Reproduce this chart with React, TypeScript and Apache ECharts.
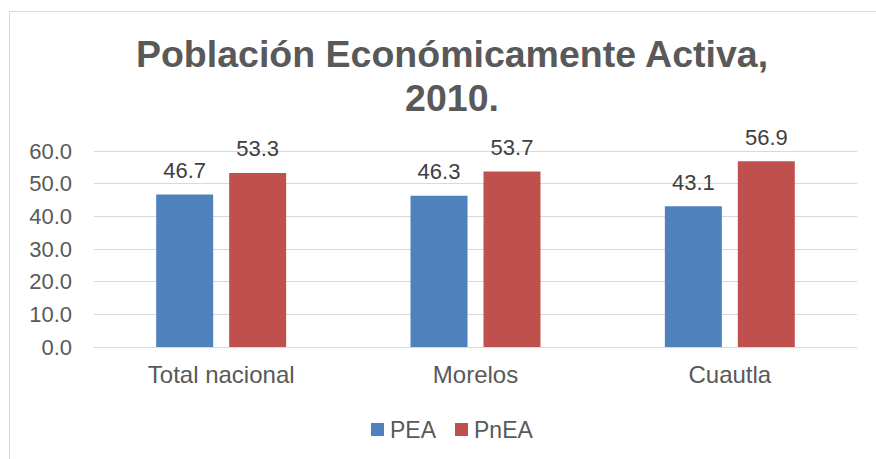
import React, { useEffect, useRef } from "react";
import * as echarts from "echarts";

const categories = ["Total nacional", "Morelos", "Cuautla"];
const peaValues = [46.7, 46.3, 43.1];
const pneaValues = [53.3, 53.7, 56.9];
const seriesNames = ["PEA", "PnEA"];
const titleLines = ["Población Económicamente Activa,", "2010."];

const FONT = "'Liberation Sans', Arial, sans-serif";

export default function App() {
  const ref = useRef<HTMLDivElement>(null);
  useEffect(() => {
    if (!ref.current) return;
    const chart = echarts.init(ref.current, null, { renderer: "svg" });
    chart.setOption({
      animation: false,
      backgroundColor: "#ffffff",
      textStyle: { fontFamily: FONT },
      title: {
        text: titleLines.join("\n"),
        left: 447,
        top: 27,
        textAlign: "center",
        textStyle: {
          fontFamily: FONT,
          fontSize: 37.5,
          fontWeight: "bold",
          color: "#595959",
          lineHeight: 44,
        },
      },
      graphic: [
        {
          type: "polyline",
          shape: { points: [[9.5, 470], [9.5, 11.5], [890, 11.5]] },
          style: { stroke: "#d9d9d9", lineWidth: 1, fill: "none" },
          silent: true,
        },
      ],
      legend: {
        left: 366,
        top: 413,
        itemWidth: 13,
        itemHeight: 13,
        itemGap: 19,
        icon: "rect",
        textStyle: { fontFamily: FONT, fontSize: 23, color: "#595959", padding: [0, 0, 0, 1] },
        data: seriesNames,
      },
      grid: { left: 94, right: 19, top: 151, bottom: 112, containLabel: false },
      xAxis: {
        type: "category",
        data: categories,
        axisLine: { show: true, lineStyle: { color: "#d9d9d9", width: 1 } },
        axisTick: { show: false },
        axisLabel: { fontFamily: FONT, fontSize: 24, color: "#595959", margin: 15 },
      },
      yAxis: {
        type: "value",
        min: 0,
        max: 60,
        interval: 10,
        axisLine: { show: false },
        axisTick: { show: false },
        splitLine: { lineStyle: { color: "#d9d9d9", width: 1 } },
        axisLabel: {
          fontFamily: FONT,
          fontSize: 22,
          color: "#595959",
          margin: 22,
          formatter: (v: number) => v.toFixed(1),
        },
      },
      series: [
        {
          name: seriesNames[0],
          type: "bar",
          data: peaValues,
          barWidth: 57,
          barGap: "28%",
          itemStyle: { color: "#4f81bd" },
          label: {
            show: true,
            position: "top",
            distance: 13,
            fontFamily: FONT,
            fontSize: 22,
            color: "#404040",
            formatter: (p: any) => Number(p.value).toFixed(1),
          },
        },
        {
          name: seriesNames[1],
          type: "bar",
          data: pneaValues,
          barWidth: 57,
          barGap: "28%",
          itemStyle: { color: "#c0504d" },
          label: {
            show: true,
            position: "top",
            distance: 13,
            fontFamily: FONT,
            fontSize: 22,
            color: "#404040",
            formatter: (p: any) => Number(p.value).toFixed(1),
          },
        },
      ],
    });
    return () => chart.dispose();
  }, []);
  return (
    <div
      ref={ref}
      style={{ position: "absolute", left: 0, top: 0, width: 876, height: 459 }}
    />
  );
}
